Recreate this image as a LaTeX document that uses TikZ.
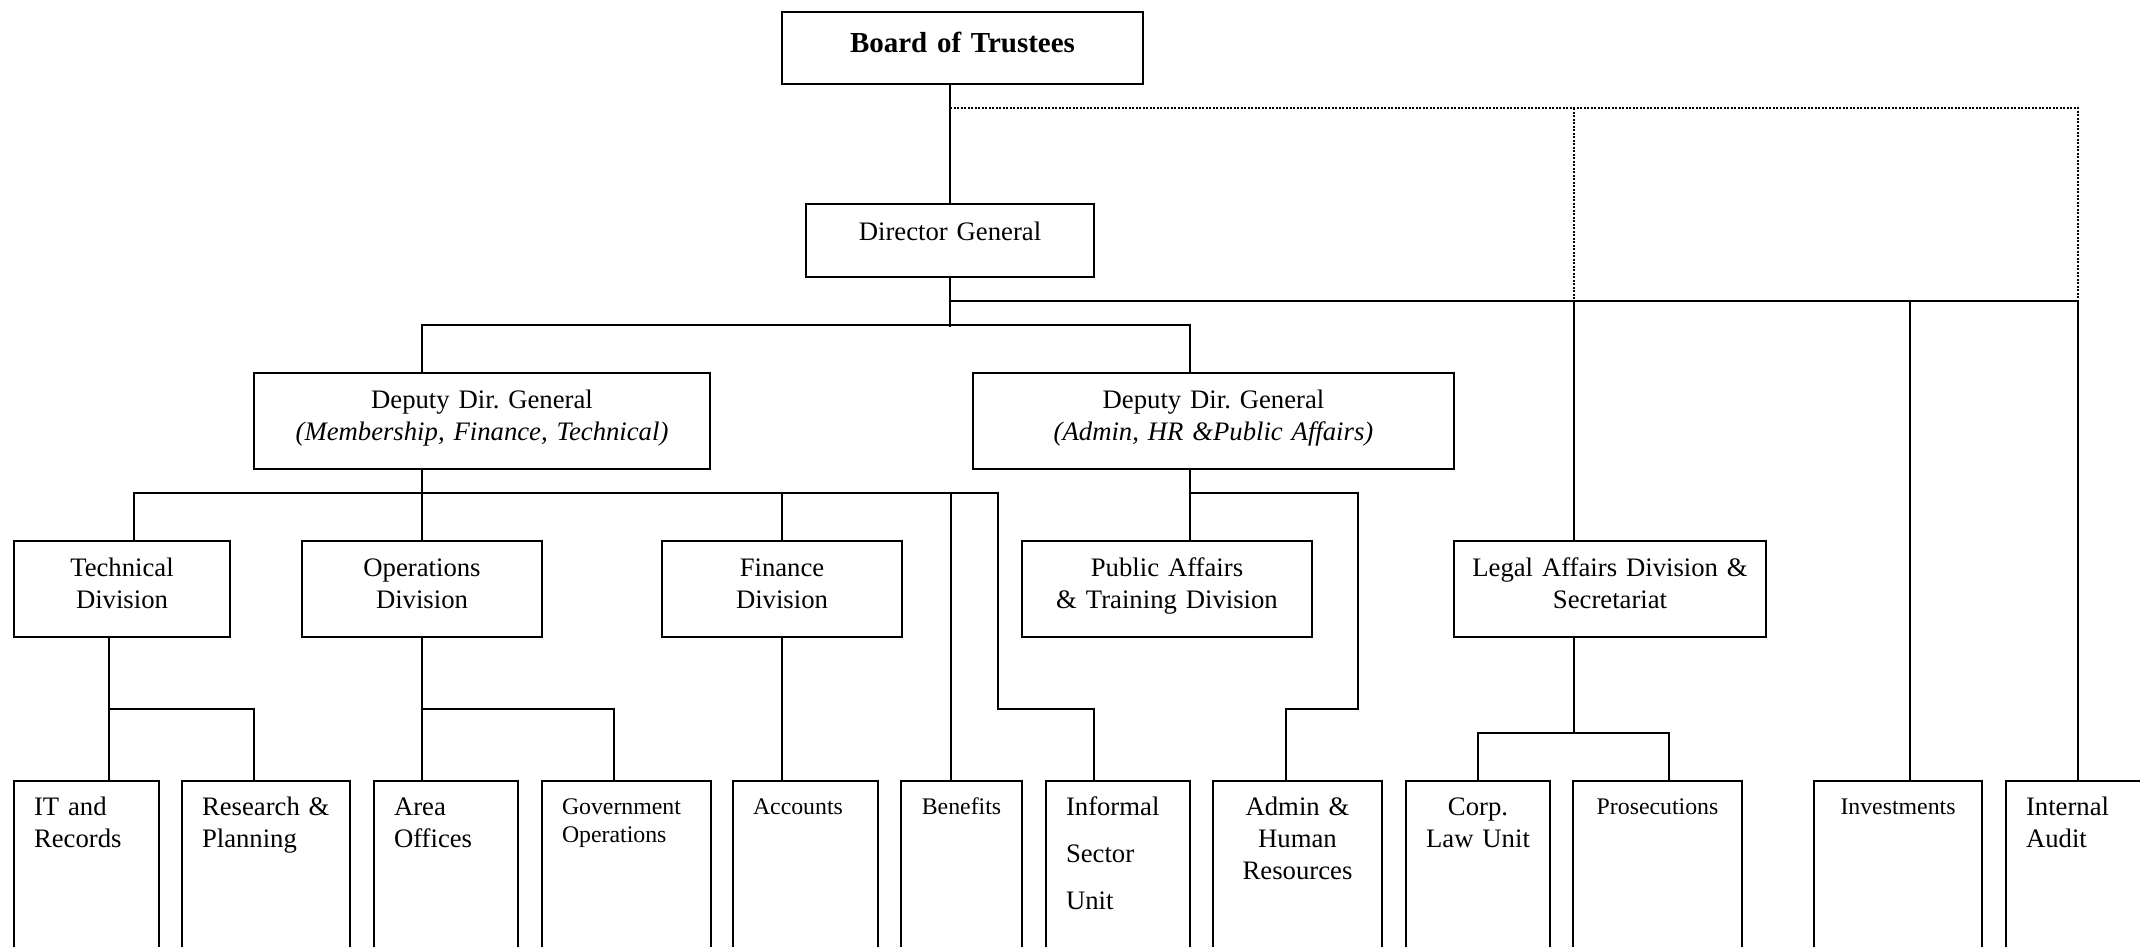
\documentclass[tikz,border=0pt]{standalone}
\usepackage{fontspec}
\setmainfont{Liberation Serif}
\usetikzlibrary{positioning}

\newcommand{\regfont}{\fontsize{26.7}{32}\selectfont}
\newcommand{\smfont}{\fontsize{23.8}{28}\selectfont}
\newcommand{\bigfont}{\fontsize{29}{35}\selectfont\bfseries}

\begin{document}
\begin{tikzpicture}[x=1pt, y=-1pt,
        orgbox/.style={draw, line width=1.8pt, outer sep=0pt, inner ysep=0pt, inner xsep=10pt, anchor=north west, align=center, font=\regfont, text height=35pt, text depth=61pt},
        leaf/.style={orgbox, inner xsep=20pt, align=left, text height=34pt, text depth=200pt},
        link/.style={line width=1.6pt},
        dotlink/.style={line width=1.8pt, dash pattern=on 2pt off 1.5pt}
    ]
        \useasboundingbox (0,0) rectangle (2140,946);
        \fill[white] (0,0) rectangle (2140,946);
        \clip (0,0) rectangle (2140,946);

        % Top of the chart
        \node[orgbox, font=\bigfont, text width=341pt, text height=40pt, text depth=32pt] (board) at (782,12) {Board of Trustees};
        \node[orgbox, text width=268pt, text height=36pt, text depth=37pt] (dg) at (806,204) {Director General};

        % Deputies
        \node[orgbox, text width=436pt] (ddga) at (254,373) {Deputy Dir.\ General\\\textit{(Membership, Finance, Technical)}};
        \node[orgbox, text width=461pt] (ddgb) at (973,373) {Deputy Dir.\ General\\\textit{(Admin, HR \&Public Affairs)}};

        % Divisions
        \node[orgbox, text width=196pt] (tech) at (14,541) {Technical\\Division};
        \node[orgbox, text width=220pt] (ops) at (302,541) {Operations\\Division};
        \node[orgbox, text width=220pt] (fin) at (662,541) {Finance\\Division};
        \node[orgbox, text width=270pt] (pub) at (1022,541) {Public Affairs\\\& Training Division};
        \node[orgbox, text width=292pt] (legal) at (1454,541) {Legal Affairs Division \&\\Secretariat};

        % Units (bottom row, running off the page)
        \node[leaf, text width=105pt] (itr) at (14,781) {IT and\\Records};
        \node[leaf, text width=128pt] (rnp) at (182,781) {Research \&\\Planning};
        \node[leaf, text width=104pt] (area) at (374,781) {Area\\Offices};
        \node[leaf, text width=129pt, font=\smfont, text height=33pt] (gov) at (542,781) {Government\\Operations};
        \node[leaf, text width=105pt, font=\smfont, text height=33pt] (acc) at (733,781) {Accounts};
        \node[leaf, text width=81pt, font=\smfont, text height=33pt, align=center] (ben) at (901,781) {Benefits};
        \node[leaf, text width=104pt] (inf) at (1046,781) {Informal\\[15pt]Sector\\[15pt]Unit};
        \node[leaf, text width=129pt, align=center] (adm) at (1213,781) {Admin \&\\Human\\Resources};
        \node[leaf, text width=104pt, align=center] (corp) at (1406,781) {Corp.\\Law Unit};
        \node[leaf, text width=129pt, font=\smfont, text height=33pt, align=center] (pros) at (1573,781) {Prosecutions};
        \node[leaf, text width=128pt, font=\smfont, text height=33pt, align=center] (inv) at (1814,781) {Investments};
        \node[leaf, text width=130pt] (aud) at (2006,781) {Internal\\Audit};

        \coordinate (dotj) at (950,108);
        \coordinate (dgj) at (950,301);

        % Board and Director General
        \draw[link] (board.south -| dg.north) -- (dg.north);
        \draw[dotlink] (dotj) -- ++(1128,0) -- ++(0,193);
        \draw[dotlink] (dotj) ++(624,0) -- ++(0,193);
        \draw[link] (dg.south) -- ++(0,50);
        \draw[link] (dgj) -| ([xshift=72pt]aud.north west);
        \draw[link] ([xshift=120pt]legal.north west) -- ++(0,-240);
        \draw[link] ([xshift=96pt]inv.north west) -- ++(0,-480);
        \draw[link] ([xshift=168pt]ddga.north west) -- ++(0,-48) -| ([xshift=217pt]ddgb.north west);

        % First deputy
        \draw[link] ([xshift=168pt]ddga.south west) -- ++(0,24);
        \draw[link] ([xshift=120pt]tech.north west) -- ++(0,-48) -- ++(864,0) -- ++(0,216) -| ([xshift=48pt]inf.north west);
        \draw[link] (ops.north) -- ++(0,-48);
        \draw[link] (fin.north) -- ++(0,-48);
        \draw[link] ([xshift=50pt]ben.north west) -- ++(0,-288);

        % Second deputy
        \draw[link] ([xshift=217pt]ddgb.south west) -- ([xshift=168pt]pub.north west);
        \draw[link] ([xshift=217pt]ddgb.south west) ++(0,24) -- ++(168,0) -- ++(0,216) -| ([xshift=73pt]adm.north west);

        % Divisions to units
        \draw[link] ([xshift=95pt]tech.south west) -- ([xshift=95pt]itr.north west);
        \draw[link] ([xshift=95pt]tech.south west) ++(0,72) -| ([xshift=72pt]rnp.north west);
        \draw[link] (ops.south) -- ([xshift=48pt]area.north west);
        \draw[link] (ops.south) ++(0,72) -| ([xshift=72pt]gov.north west);
        \draw[link] (fin.south) -- ([xshift=49pt]acc.north west);
        \draw[link] ([xshift=120pt]legal.south west) -- ++(0,96);
        \draw[link] (corp.north) -- ++(0,-48) -| ([xshift=96pt]pros.north west);

    \end{tikzpicture}
\end{document}
